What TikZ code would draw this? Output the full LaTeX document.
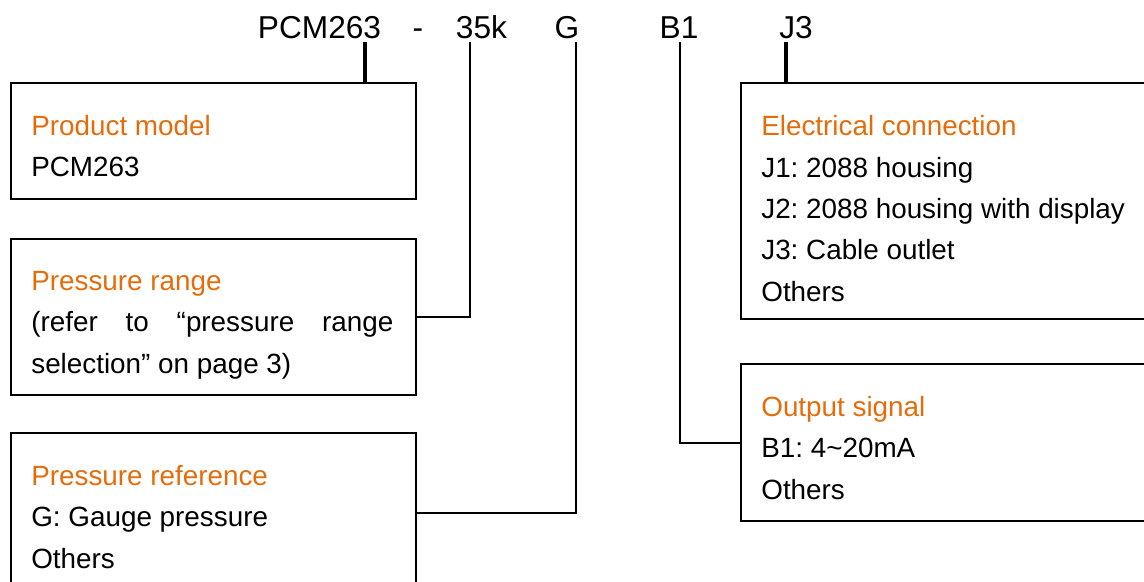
\documentclass[tikz,border=0pt]{standalone}
\usepackage{fontspec}
\setmainfont{Liberation Sans}
\usepackage{tikz}
\usetikzlibrary{positioning, calc}
\definecolor{headorange}{HTML}{E46C0A}
\newcommand{\head}[1]{\textcolor{headorange}{#1}}
\newcommand{\px}{0.6pt}
\frenchspacing
\tikzset{
  codebox/.style={draw=black, line width=1.2pt, inner sep=0pt, anchor=north west},
  codetext/.style={anchor=base west, inner sep=0pt, align=left, font=\fontsize{16.7pt}{24.8pt}\selectfont\frenchspacing},
  codepart/.style={anchor=base, inner sep=0pt, font=\fontsize{19pt}{22pt}\selectfont},
  lead/.style={draw=black, line width=1.2pt},
  heavylead/.style={draw=black, line width=1.9pt},
}

\begin{document}
\begin{tikzpicture}[x=0.6pt, y=-0.6pt]
    \useasboundingbox (0,0) rectangle (1144,581);

    % Order code
    \node[codepart] (pcm) at (319.5,39) {PCM263};
    \node[codepart] (dash) at (418,39) {-};
    \node[codepart] (range) at (481.5,39) {35k};
    \node[codepart] (ref) at (567,39) {G};
    \node[codepart] (sig) at (679,39) {B1};
    \node[codepart] (conn) at (796,39) {J3};

    % Boxes on the left
    \node[codebox, minimum width=405*\px, minimum height=116*\px] (modelbox) at (10,82) {};
    \node[codebox, minimum width=405*\px, minimum height=156*\px] (rangebox) at (10,238) {};
    \node[codebox, minimum width=405*\px, minimum height=160*\px] (refbox) at (10,432) {};

    % Boxes on the right
    \node[codebox, minimum width=404*\px, minimum height=236*\px] (connbox) at (740,82) {};
    \node[codebox, minimum width=404*\px, minimum height=157*\px] (sigbox) at (740,363) {};

    % Texts (placed by the baseline of the last line)
    \node[codetext] (modeltxt) at (31,176.5) {\head{Product model}\\PCM263};
    \node[codetext] (rangetxt) at (31,373) {\head{Pressure range}\\
      \makebox[217.2pt][s]{(refer to “pressure range}\\
      selection” on page 3)};
    \node[codetext] (reftxt) at (31,568) {\head{Pressure reference}\\G: Gauge pressure\\Others};
    \node[codetext] (conntxt) at (761,301) {\head{Electrical connection}\\J1: 2088 housing\\
      J2: 2088 housing with display\\J3: Cable outlet\\Others};
    \node[codetext] (sigtxt) at (761,499) {\head{Output signal}\\B1: 4\textasciitilde20mA\\Others};

    % Leads
    \coordinate (pcmtip) at (365,42);
    \coordinate (rangetip) at (470,42);
    \coordinate (reftip) at (576,42);
    \coordinate (sigtip) at (680,42);
    \coordinate (conntip) at (786,42);
    \draw[heavylead] (pcmtip) -- (modelbox.north -| pcmtip);
    \draw[lead] (rangetip) |- (rangebox.east);
    \draw[lead] (reftip) |- (refbox.east);
    \draw[lead] (sigtip) |- (sigbox.west);
    \draw[heavylead] (conntip) -- (connbox.north -| conntip);
\end{tikzpicture}
\end{document}
